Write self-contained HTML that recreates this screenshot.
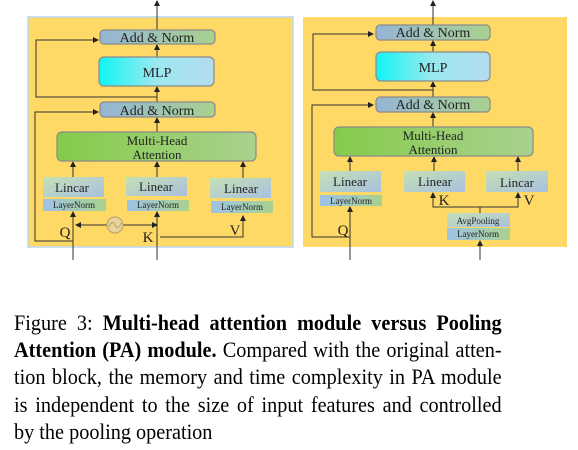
<!DOCTYPE html>
<html><head><meta charset="utf-8"><style>
body{margin:0;background:#fff;width:578px;height:450px;overflow:hidden;position:relative}
svg{position:absolute;left:0;top:0}
.cap{position:absolute;left:14px;width:530px;font-family:"Liberation Serif",serif;font-size:22px;text-align:justify;text-align-last:justify;white-space:nowrap;color:#000;transform:scaleX(0.92);transform-origin:0 0}
</style></head><body>
<svg width="578" height="300" viewBox="0 0 578 300" font-family="Liberation Serif, serif">
<defs>
<linearGradient id="an" x1="0" x2="1"><stop offset="0" stop-color="#95b5d6"/><stop offset="1" stop-color="#a9d18e"/></linearGradient>
<linearGradient id="mlp" x1="0" x2="1"><stop offset="0" stop-color="#12f4f4"/><stop offset="0.5" stop-color="#9be9ef"/><stop offset="1" stop-color="#b4dbef"/></linearGradient>
<linearGradient id="mha" x1="0" x2="1"><stop offset="0" stop-color="#84cc4a"/><stop offset="1" stop-color="#a9d18e"/></linearGradient>
<linearGradient id="lin" x1="0" y1="0" x2="1" y2="1"><stop offset="0" stop-color="#c5e0b4"/><stop offset="1" stop-color="#a8c0e0"/></linearGradient>
<linearGradient id="ln" x1="0" x2="1"><stop offset="0" stop-color="#9dc3e6"/><stop offset="1" stop-color="#a9d18e"/></linearGradient>
<marker id="ah" markerWidth="6" markerHeight="6" refX="5" refY="3" orient="auto" markerUnits="userSpaceOnUse"><path d="M0,0 L6,3 L0,6z" fill="#222"/></marker>
</defs>
<rect x="28" y="17" width="265" height="230" fill="#ffd966" stroke="#bdd7ee" stroke-width="1.5"/>
<rect x="303" y="17" width="264" height="230" fill="#ffd966"/>
<g stroke="#333" stroke-width="1" fill="none" marker-end="url(#ah)">
<line x1="157" y1="30" x2="157" y2="1"/>
<polyline points="157,97 36,97 36,40 98,40"/>
<polyline points="73,241 35,241 35,112 98,112"/>
<line x1="157" y1="57" x2="157" y2="45"/>
<line x1="157" y1="102" x2="157" y2="87"/>
<line x1="157" y1="132" x2="157" y2="118"/>
<line x1="73" y1="177" x2="73" y2="162"/>
<line x1="157" y1="177" x2="157" y2="162"/>
<line x1="243" y1="178" x2="243" y2="162"/>
<line x1="73" y1="260" x2="73" y2="212"/>
<line x1="157" y1="260" x2="157" y2="212"/>
<line x1="107" y1="225" x2="76" y2="225"/>
<line x1="123" y1="225" x2="157" y2="225"/>
<polyline points="160,237 243,237 243,216"/>
<line x1="433" y1="25" x2="433" y2="1"/>
<polyline points="433,90 313,90 313,34 373,34"/>
<polyline points="350,237 312,237 312,105 373,105"/>
<line x1="433" y1="52" x2="433" y2="41"/>
<line x1="433" y1="97" x2="433" y2="82"/>
<line x1="433" y1="127" x2="433" y2="113"/>
<line x1="350" y1="171" x2="350" y2="157"/>
<line x1="434" y1="171" x2="434" y2="157"/>
<line x1="518" y1="171" x2="518" y2="157"/>
<line x1="350" y1="260" x2="350" y2="207"/>
<polyline points="480,207 433,207 433,193"/>
<polyline points="480,207 518,207 518,193"/>
<line x1="480" y1="260" x2="480" y2="241"/>
</g>
<line x1="480" y1="207" x2="480" y2="213" stroke="#333"/>
<circle cx="115" cy="225" r="8" fill="#e8d39a" stroke="#b5a06a"/>
<path d="M109,227 Q112,219 115,225 Q118,231 121,223" stroke="#b5a06a" fill="none"/>
<g stroke="#8a8a8a" stroke-width="1.2">
<rect x="100" y="30" width="115" height="14" rx="4" fill="url(#an)"/>
<rect x="99" y="57" width="115" height="29" rx="5" fill="url(#mlp)"/>
<rect x="100" y="102" width="115" height="15" rx="4" fill="url(#an)"/>
<rect x="57" y="132" width="199" height="29" rx="5" fill="url(#mha)"/>
<rect x="376" y="25" width="114" height="15" rx="4" fill="url(#an)"/>
<rect x="376" y="52" width="114" height="29" rx="5" fill="url(#mlp)"/>
<rect x="376" y="97" width="114" height="15" rx="4" fill="url(#an)"/>
<rect x="334" y="127" width="199" height="29" rx="5" fill="url(#mha)"/>
</g>
<g>
<rect x="43" y="177" width="61" height="20" fill="url(#lin)"/>
<rect x="43" y="199" width="63" height="12" fill="url(#ln)"/>
<rect x="126" y="177" width="61" height="19" fill="url(#lin)"/>
<rect x="127" y="200" width="62" height="11" fill="url(#ln)"/>
<rect x="210" y="178" width="61" height="20" fill="url(#lin)"/>
<rect x="211" y="201" width="62" height="12" fill="url(#ln)"/>
<rect x="320" y="171" width="61" height="21" fill="url(#lin)"/>
<rect x="320" y="195" width="62" height="11" fill="url(#ln)"/>
<rect x="404" y="171" width="61" height="21" fill="url(#lin)"/>
<rect x="486" y="171" width="62" height="21" fill="url(#lin)"/>
<rect x="447" y="213" width="63" height="14" fill="url(#lin)"/>
<rect x="447" y="228" width="63" height="12" fill="url(#ln)"/>
</g>
<g fill="#222" text-anchor="middle">
<text x="157" y="42" font-size="14">Add &amp; Norm</text>
<text x="157" y="77" font-size="14">MLP</text>
<text x="157" y="115" font-size="14">Add &amp; Norm</text>
<text x="157" y="145" font-size="13">Multi-Head</text>
<text x="157" y="159" font-size="13">Attention</text>
<text x="72" y="192" font-size="13">Lincar</text>
<text x="74" y="208" font-size="9">LayerNorm</text>
<text x="156" y="191" font-size="13">Linear</text>
<text x="158" y="208" font-size="9">LayerNorm</text>
<text x="241" y="193" font-size="13">Linear</text>
<text x="242" y="210" font-size="9">LayerNorm</text>
<text x="65" y="237" font-size="15">Q</text>
<text x="148" y="242" font-size="15">K</text>
<text x="235" y="235" font-size="15">V</text>
<text x="433" y="37" font-size="14">Add &amp; Norm</text>
<text x="433" y="72" font-size="14">MLP</text>
<text x="433" y="109" font-size="14">Add &amp; Norm</text>
<text x="433" y="140" font-size="13">Multi-Head</text>
<text x="433" y="154" font-size="13">Attention</text>
<text x="350" y="186" font-size="13">Linear</text>
<text x="351" y="204" font-size="9">LayerNorm</text>
<text x="435" y="186" font-size="13">Linear</text>
<text x="517" y="187" font-size="13">Lincar</text>
<text x="478" y="224" font-size="9">AvgPooling</text>
<text x="478" y="237" font-size="9">LayerNorm</text>
<text x="343" y="235" font-size="15">Q</text>
<text x="444" y="205" font-size="15">K</text>
<text x="529" y="205" font-size="15">V</text>
</g>
</svg>
<div class="cap" style="top:310px">Figure 3: <b>Multi-head attention module versus Pooling</b></div>
<div class="cap" style="top:337px"><b>Attention (PA) module.</b> Compared with the original atten-</div>
<div class="cap" style="top:364px">tion block, the memory and time complexity in PA module</div>
<div class="cap" style="top:392px">is independent to the size of input features and controlled</div>
<div class="cap" style="top:419px;text-align-last:left">by the pooling operation</div>
</body></html>
